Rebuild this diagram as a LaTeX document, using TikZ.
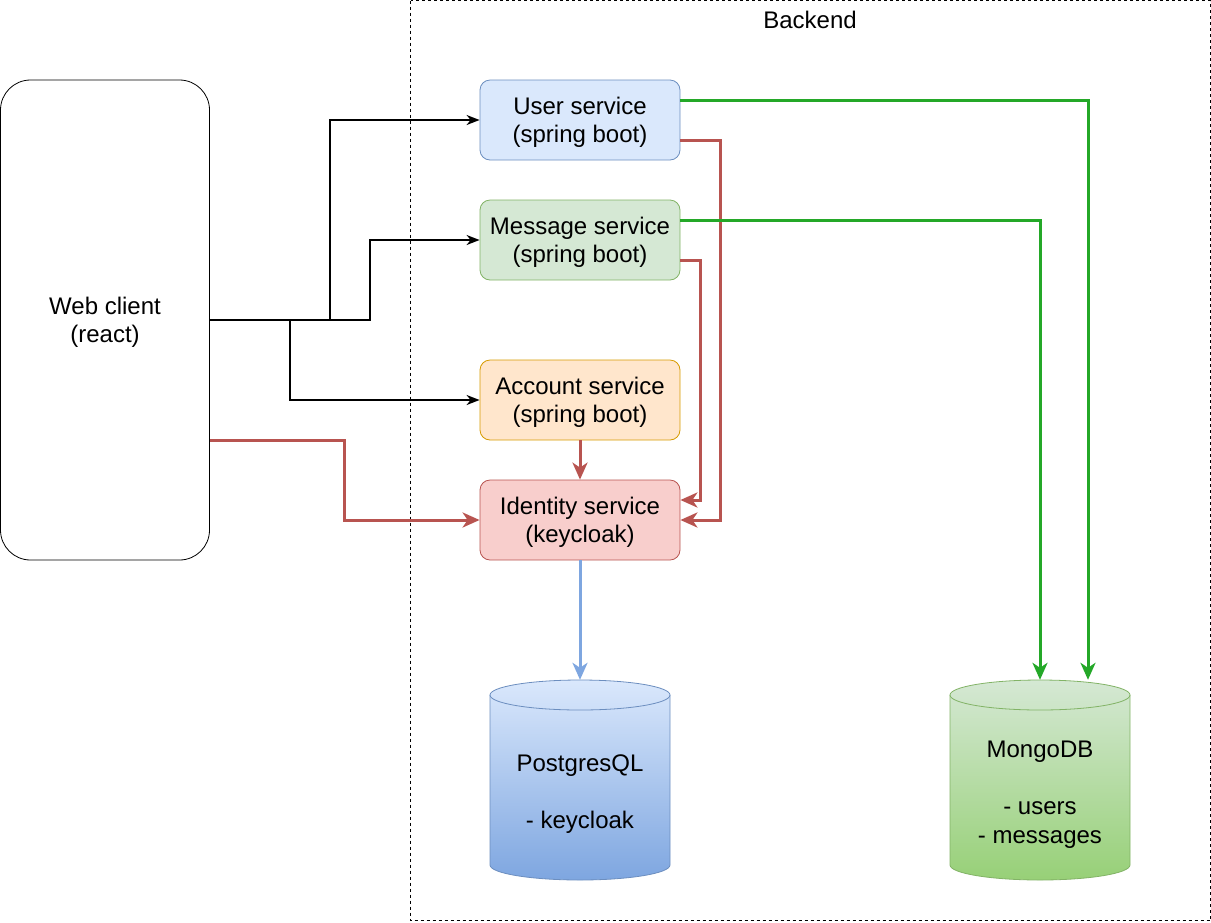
\documentclass[tikz,border=0pt]{standalone}
\usepackage{fontspec}
\setmainfont{Liberation Sans}
\usetikzlibrary{arrows.meta}
\definecolor{userfill}{HTML}{DAE8FC}
\definecolor{userline}{HTML}{6C8EBF}
\definecolor{msgfill}{HTML}{D5E8D4}
\definecolor{msgline}{HTML}{82B366}
\definecolor{accfill}{HTML}{FFE6CC}
\definecolor{accline}{HTML}{D79B00}
\definecolor{idfill}{HTML}{F8CECC}
\definecolor{idline}{HTML}{B85450}
\definecolor{pgbottom}{HTML}{7EA6E0}
\definecolor{mongobottom}{HTML}{97D077}
\definecolor{mongoarrow}{RGB}{36,168,40}
\begin{document}
\begin{tikzpicture}[x=1pt, y=-1pt, font=\fontsize{24}{28.5}\selectfont,
    service/.style={draw, line width=0.8pt, rounded corners=10pt, minimum width=200pt, minimum height=80pt, align=center, text depth=0pt},
    call/.style={line width=1.7pt, -{Stealth[length=13pt, width=10pt, inset=4pt]}},
    auth/.style={idline, line width=3pt, -{Stealth[length=17pt, width=15pt, inset=5pt]}},
    store/.style={mongoarrow, line width=3pt, -{Stealth[length=17pt, width=15pt, inset=5pt]}}]
        \useasboundingbox (0, 0) rectangle (1211, 922);
        \draw[line width=0.8pt, dash pattern=on 3pt off 3pt](410.5, 0.5) rectangle (1210.5, 920.5);
        \node[black](backend)at(810, 20){Backend};
        \node[draw, fill=white, line width=0.8pt, rounded corners=30pt, minimum width=209pt, minimum height=480pt, align=center, text depth=0pt](web)at(105, 320){Web client\\(react)};
        \node[service, fill=userfill, draw=userline](user)at(580, 120){User service\\(spring boot)};
        \node[service, fill=msgfill, draw=msgline](message)at(580, 240){Message service\\(spring boot)};
        \node[service, fill=accfill, draw=accline](account)at(580, 400){Account service\\(spring boot)};
        \node[service, fill=idfill, draw=idline](identity)at(580, 520){Identity service\\(keycloak)};
        \node[minimum width=180pt, minimum height=200pt](pg)at(580, 780){};
        \shade[top color=userfill, bottom color=pgbottom, draw=userline, line width=0.8pt](490, 695) -- (490, 865) arc (180:360:90pt and 15pt) -- (670, 695) arc (0:180:90pt and 15pt) -- cycle;
        \draw[userline, line width=0.8pt](490, 695) arc (180:360:90pt and 15pt);
        \node[align=center, text depth=0pt](pgtext)at(580, 792){PostgresQL\\\mbox{}\\- keycloak};
        \node[minimum width=180pt, minimum height=200pt](mongo)at(1040, 780){};
        \shade[top color=msgfill, bottom color=mongobottom, draw=msgline, line width=0.8pt](950, 695) -- (950, 865) arc (180:360:90pt and 15pt) -- (1130, 695) arc (0:180:90pt and 15pt) -- cycle;
        \draw[msgline, line width=0.8pt](950, 695) arc (180:360:90pt and 15pt);
        \node[align=center, text depth=0pt](mongotext)at(1040, 792){MongoDB\\\mbox{}\\- users\\- messages};
        \draw[call](web.east) -- ++(120, 0) |- (user);
        \draw[call](web.east) -- ++(160, 0) |- (message);
        \draw[call](web.east) -- ++(80, 0) |- (account);
        \draw[auth]([yshift=-120pt]web.east) -- ++(135, 0) |- (identity);
        \draw[auth](account) -- (identity);
        \draw[auth]([yshift=-20pt]user.east) -- ++(40, 0) |- (identity.east);
        \draw[auth]([yshift=-20pt]message.east) -- ++(20, 0) |- ([yshift=20pt]identity.east);
        \draw[pgbottom, line width=3pt, -{Stealth[length=17pt, width=15pt, inset=5pt]}](identity) -- (pg);
        \draw[store]([yshift=20pt]user.east) -| ([xshift=48pt]mongo.north);
        \draw[store]([yshift=20pt]message.east) -| (mongo.north);
    \end{tikzpicture}
\end{document}
